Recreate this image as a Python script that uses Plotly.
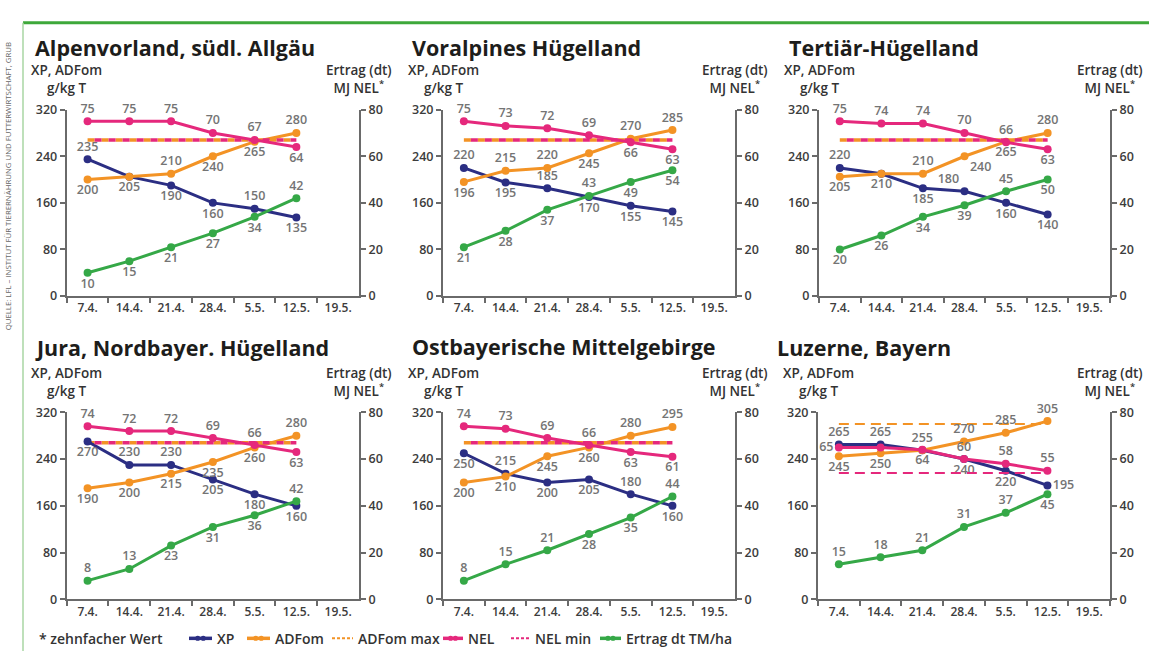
import plotly.graph_objects as go

W, H = 1149, 659

# Sampling dates (category axis) – the last one has no measurement yet
dates = ["7.4.", "14.4.", "21.4.", "28.4.", "5.5.", "12.5.", "19.5."]
sampled = dates[:6]

titles = [
    "Alpenvorland, südl. Allgäu",
    "Voralpines Hügelland",
    "Tertiär-Hügelland",
    "Jura, Nordbayer. Hügelland",
    "Ostbayerische Mittelgebirge",
    "Luzerne, Bayern",
]

# Alpenvorland, südl. Allgäu
alp_xp = [235, 205, 190, 160, 150, 135]
alp_adf = [200, 205, 210, 240, 265, 280]
alp_nel = [75, 75, 75, 70, 67, 64]
alp_ertrag = [10, 15, 21, 27, 34, 42]

# Voralpines Hügelland
vor_xp = [220, 195, 185, 170, 155, 145]
vor_adf = [196, 215, 220, 245, 270, 285]
vor_nel = [75, 73, 72, 69, 66, 63]
vor_ertrag = [21, 28, 37, 43, 49, 54]

# Tertiär-Hügelland
ter_xp = [220, 210, 185, 180, 160, 140]
ter_adf = [205, 210, 210, 240, 265, 280]
ter_nel = [75, 74, 74, 70, 66, 63]
ter_ertrag = [20, 26, 34, 39, 45, 50]

# Jura, Nordbayer. Hügelland
jur_xp = [270, 230, 230, 205, 180, 160]
jur_adf = [190, 200, 215, 235, 260, 280]
jur_nel = [74, 72, 72, 69, 66, 63]
jur_ertrag = [8, 13, 23, 31, 36, 42]

# Ostbayerische Mittelgebirge
ost_xp = [250, 215, 200, 205, 180, 160]
ost_adf = [200, 210, 245, 260, 280, 295]
ost_nel = [74, 73, 69, 66, 63, 61]
ost_ertrag = [8, 15, 21, 28, 35, 44]

# Luzerne, Bayern
luz_xp = [265, 265, 255, 240, 220, 195]
luz_adf = [245, 250, 255, 270, 285, 305]
luz_nel = [65, 65, 64, 60, 58, 55]
luz_ertrag = [15, 18, 21, 31, 37, 45]

# Reference limits per region
adf_max = [268, 268, 268, 268, 268, 300]
nel_min = [67, 67, 67, 67, 67, 54]

left_ticks = [0, 80, 160, 240, 320]
right_ticks = [0, 20, 40, 60, 80]

xp_sets = [alp_xp, vor_xp, ter_xp, jur_xp, ost_xp, luz_xp]
adf_sets = [alp_adf, vor_adf, ter_adf, jur_adf, ost_adf, luz_adf]
nel_sets = [alp_nel, vor_nel, ter_nel, jur_nel, ost_nel, luz_nel]
ertrag_sets = [alp_ertrag, vor_ertrag, ter_ertrag, jur_ertrag, ost_ertrag, luz_ertrag]

# Value-label placement (T above, B below, L left, R right,
# l above-left, r below-right, N none)
lbl_xp = ["TBBBTB", "TBTBBB", "TBBlBB", "BTTBBB", "BTBBTB", "TTTBBR"]
lbl_adf = ["BNTBBT", "BTTBTT", "BNTrBT", "BBBBBT", "BBBBTT", "BBNTTT"]
lbl_nel = ["TTTTTB", "TTTTBB", "TTTTTB", "TTTTTB", "TTTTBB", "LNBTTT"]
lbl_ert = ["BBBBBT", "BBBTBB", "BBBBTB", "TTBBBT", "TTTBBT", "TTTTTB"]
POS = {"T": "top center", "B": "bottom center", "L": "middle left",
       "R": "middle right", "l": "top left", "r": "bottom right"}

C_XP = "#2b2e83"
C_ADF = "#f39325"
C_NEL = "#e5287c"
C_ERT = "#35a847"
C_AXIS = "#6a6a6a"
C_TICK = "#3c3c3c"
C_LBL = "#747474"
C_TEXT = "#333333"
FONT = "Open Sans"

# Panel frames in pixels: (left axis x, right axis x, top y, bottom y)
frames = [
    (66.7, 359, 103.3, 294.7),
    (443, 735, 103.3, 294.7),
    (819, 1110, 103.3, 294.7),
    (66.7, 359, 414, 606),
    (443, 735, 414, 606),
    (818, 1110, 414, 606),
]
title_pos = [(33, 40), (410, 40), (787, 40), (33, 347), (410, 346), (775, 347)]

fig = go.Figure()
layout = {}
annotations = []
shapes = []

tick_font = dict(family=FONT, size=12.5, color=C_TICK, weight=600)
axis_common = dict(showline=True, linecolor=C_AXIS, linewidth=2,
                   ticks="outside", ticklen=5, tickwidth=1.5,
                   tickcolor=C_AXIS, showgrid=False, zeroline=False,
                   tickfont=tick_font)

for k in range(6):
    n = k + 1
    xl, xr, yt, yb = frames[k]
    xdom = [xl / W, xr / W]
    ydom = [1 - yb / H, 1 - yt / H]
    xa, yl, yr = f"x{n}", f"y{n}", f"y{n + 6}"

    layout[f"xaxis{n}"] = dict(
        domain=xdom, anchor=yl, type="category", categoryorder="array",
        categoryarray=dates, range=[-0.5, 6.5], tickson="boundaries",
        **{**axis_common, "tickfont": dict(family=FONT, size=12, color=C_TICK,
                                           weight=600)},
    )
    layout[f"yaxis{n}"] = dict(domain=ydom, anchor=xa, range=[0, 320],
                               tickvals=left_ticks, **axis_common)
    layout[f"yaxis{n + 6}"] = dict(overlaying=yl, anchor=xa, side="right",
                                   range=[0, 80], tickvals=right_ticks,
                                   **axis_common)

    thick = k < 5
    dash_w = 3.5 if thick else 2
    fig.add_trace(go.Scatter(
        x=[sampled[0], sampled[-1]], y=[adf_max[k], adf_max[k]],
        xaxis=xa, yaxis=yl, mode="lines", showlegend=False, hoverinfo="skip",
        line=dict(color=C_ADF, width=dash_w,
                  dash="7px,7px" if thick else "10px,6px"),
    ))

    def series(vals, spec, color, yaxis):
        fig.add_trace(go.Scatter(
            x=sampled, y=vals, xaxis=xa, yaxis=yaxis, mode="lines+markers",
            showlegend=False, cliponaxis=False,
            line=dict(color=color, width=3),
            marker=dict(color=color, size=8),
        ))
        keep = [i for i, s in enumerate(spec) if s != "N"]
        fig.add_trace(go.Scatter(
            x=[sampled[i] for i in keep], y=[vals[i] for i in keep],
            xaxis=xa, yaxis=yaxis, mode="markers+text", showlegend=False,
            cliponaxis=False, hoverinfo="skip",
            marker=dict(size=7, opacity=0),
            text=[str(vals[i]) for i in keep],
            textposition=[POS[spec[i]] for i in keep],
            textfont=dict(family=FONT, size=12.5, color=C_LBL, weight=600),
        ))

    series(xp_sets[k], lbl_xp[k], C_XP, yl)
    series(adf_sets[k], lbl_adf[k], C_ADF, yl)

    fig.add_trace(go.Scatter(
        x=[sampled[0], sampled[-1]], y=[nel_min[k], nel_min[k]],
        xaxis=xa, yaxis=yr, mode="lines", showlegend=False, hoverinfo="skip",
        line=dict(color=C_NEL, width=dash_w,
                  dash="0px,7px,7px,0px" if thick else "10px,6px"),
    ))
    series(nel_sets[k], lbl_nel[k], C_NEL, yr)
    series(ertrag_sets[k], lbl_ert[k], C_ERT, yr)

    tx, ty = title_pos[k]
    annotations.append(dict(
        text=f"<b>{titles[k]}</b>", x=tx / W, y=1 - ty / H, xref="paper",
        yref="paper", xanchor="left", yanchor="middle", showarrow=False,
        font=dict(family=FONT, size=21.5, color="#1d1d1b"),
    ))
    ay = yt - 31
    annotations.append(dict(
        text="XP, ADFom<br>g/kg T", x=xl / W, y=1 - ay / H, xref="paper",
        yref="paper", xanchor="center", yanchor="middle", showarrow=False,
        align="center", font=dict(family=FONT, size=13.5, color=C_TEXT,
                                  weight=600),
    ))
    annotations.append(dict(
        text="Ertrag (dt)<br>MJ NEL<sup>*</sup>", x=xr / W, y=1 - ay / H,
        xref="paper", yref="paper", xanchor="center", yanchor="middle",
        showarrow=False, align="center",
        font=dict(family=FONT, size=13.5, color=C_TEXT, weight=600),
    ))

# Legend row along the bottom
LEG_Y = 1 - 646 / H
legend_items = [
    # name, colour, dotted?, symbol start px, symbol end px, text start px
    ("XP", C_XP, False, 189, 212, 215),
    ("ADFom", C_ADF, False, 247, 270, 273),
    ("ADFom max", C_ADF, True, 332, 353, 356),
    ("NEL", C_NEL, False, 443, 463, 466),
    ("NEL min", C_NEL, True, 511, 530, 533),
    ("Ertrag dt TM/ha", C_ERT, False, 600, 621, 624),
]
for name, color, dotted, s0, s1, t0 in legend_items:
    shapes.append(dict(
        type="line", xref="paper", yref="paper", x0=s0 / W, x1=s1 / W,
        y0=LEG_Y, y1=LEG_Y,
        line=dict(color=color, width=2 if dotted else 3.5,
                  dash="3px,2px" if dotted else "solid"),
    ))
    if not dotted:
        for c in (s0 + (s1 - s0) * 0.38, s0 + (s1 - s0) * 0.62):
            shapes.append(dict(
                type="circle", xref="paper", yref="paper",
                x0=(c - 2.6) / W, x1=(c + 2.6) / W,
                y0=LEG_Y - 2.6 / H, y1=LEG_Y + 2.6 / H,
                fillcolor=color, line=dict(width=0),
            ))
    annotations.append(dict(
        text=name, x=t0 / W, y=LEG_Y, xref="paper", yref="paper",
        xanchor="left", yanchor="middle", showarrow=False,
        font=dict(family=FONT, size=14, color=C_TEXT, weight=600),
    ))

annotations.append(dict(
    text="* zehnfacher Wert", x=37 / W, y=LEG_Y, xref="paper",
    yref="paper", xanchor="left", yanchor="middle", showarrow=False,
    font=dict(family=FONT, size=14, color=C_TEXT, weight=600),
))
annotations.append(dict(
    text="QUELLE: LFL – INSTITUT FÜR TIERERNÄHRUNG UND FUTTERWIRTSCHAFT, GRUB",
    x=8 / W, y=1 - 182 / H, xref="paper", yref="paper", xanchor="center",
    yanchor="middle", textangle=-90, showarrow=False,
    font=dict(family=FONT, size=7.8, color="#666666"),
))

shapes += [
    dict(type="line", xref="paper", yref="paper", x0=23 / W, x1=1,
         y0=1 - 14 / H, y1=1 - 14 / H, line=dict(color="#3ea83a", width=3)),
    dict(type="line", xref="paper", yref="paper", x0=23 / W, x1=23 / W,
         y0=0, y1=1 - 14 / H, line=dict(color="#a9d6a3", width=1.5)),
]

fig.update_layout(
    width=W, height=H, margin=dict(l=0, r=0, t=0, b=0),
    paper_bgcolor="white", plot_bgcolor="rgba(0,0,0,0)",
    showlegend=False,
    annotations=annotations, shapes=shapes,
    **layout,
)

fig.write_html("out.html")
